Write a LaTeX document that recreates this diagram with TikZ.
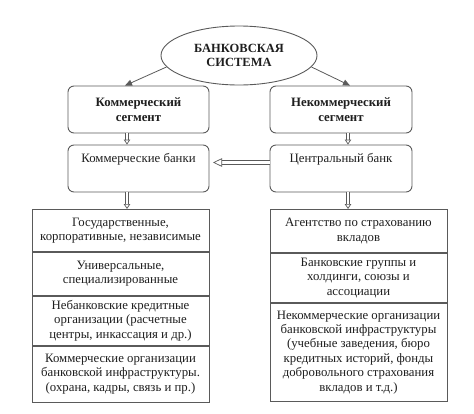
\documentclass[tikz,border=0pt]{standalone}
\usepackage{fontspec}
\setmainfont{Liberation Serif}
\usetikzlibrary{shapes.geometric,arrows.meta}
\definecolor{linec}{HTML}{5A5A5A}
\definecolor{txtc}{HTML}{1E1E1E}
\tikzset{
  base/.style={draw=linec,line width=0.9pt,text=txtc,inner sep=0pt,font=\fontsize{12.8}{14.4}\selectfont,align=center},
  oval/.style={base,ellipse,minimum width=156pt,minimum height=59pt,font=\bfseries\fontsize{12.5}{14.6}\selectfont},
  rbox/.style={base,rounded corners=6pt,minimum width=141pt,minimum height=47pt},
  segbox/.style={rbox,font=\bfseries\fontsize{12.8}{14.6}\selectfont},
  cell/.style={base,rectangle,minimum width=177pt,anchor=north},
  thin/.style={draw=linec,line width=0.8pt,-{Triangle[length=7pt,width=6pt]}},
  hollow/.style={draw=linec,line width=0.7pt,double=white,double distance=2.2pt,-{Triangle[open,length=5pt,width=6.5pt,line width=0.7pt]}},
  hollowbig/.style={draw=linec,line width=0.7pt,double=white,double distance=3pt,-{Triangle[open,length=9pt,width=8.5pt,line width=0.7pt]}}
}
\begin{document}
\begin{tikzpicture}[x=1pt,y=-1pt]
\useasboundingbox (0,0) rectangle (474,413);
\node[oval] (bs) at (239,55.5) {БАНКОВСКАЯ\\СИСТЕМА};
\node[segbox] (cs) at (138.5,109.5) {Коммерческий\\сегмент};
\node[segbox,minimum width=142pt] (ncs) at (341,109.5) {Некоммерческий\\сегмент};
\node[rbox] (cb) at (138.5,168.5) {\parbox[c][47pt][t]{135pt}{\centering\vspace*{8pt}Коммерческие банки}};
\node[rbox,minimum width=142pt] (zb) at (341,168.5) {\parbox[c][47pt][t]{135pt}{\centering\vspace*{8pt}Центральный банк}};
% left stack
\node[cell,minimum height=42pt] (l1) at (120.5,209) {Государственные,\\корпоративные, независимые};
\node[cell,minimum height=43pt] (l2) at (l1.south) {Универсальные,\\специализированные};
\node[cell,minimum height=49pt] (l3) at (l2.south) {Небанковские кредитные\\организации (расчетные\\центры, инкассация и др.)};
\node[cell,minimum height=56pt] (l4) at (l3.south) {Коммерческие организации\\банковской инфраструктуры.\\(охрана, кадры, связь и пр.)};
% right stack
\node[cell,minimum height=43pt] (r1) at (358.5,209) {Агентство по страхованию\\вкладов};
\node[cell,minimum height=49pt] (r2) at (r1.south) {Банковские группы и\\холдинги, союзы и\\ассоциации};
\node[cell,minimum height=98pt] (r3) at (r2.south) {Некоммерческие организации\\банковской инфраструктуры\\(учебные заведения, бюро\\кредитных историй, фонды\\добровольного страхования\\вкладов и т.д.)};
% connectors
\draw[thin] (bs.189) -- (cs.north -| 125,0);
\draw[thin] (bs.-9) -- (ncs.north -| 350,0);
\draw[hollow] (cs.south -| 127,0) -- (cb.north -| 127,0);
\draw[hollow] (ncs.south -| 348,0) -- (zb.north -| 348,0);
\draw[hollow] (cb.south -| 127,0) -- (l1.north -| 127,0);
\draw[hollow] (zb.south -| 348,0) -- (r1.north -| 348,0);
\draw[hollowbig] (zb.west |- 0,162.5) -- (213,162.5);
\end{tikzpicture}
\end{document}
